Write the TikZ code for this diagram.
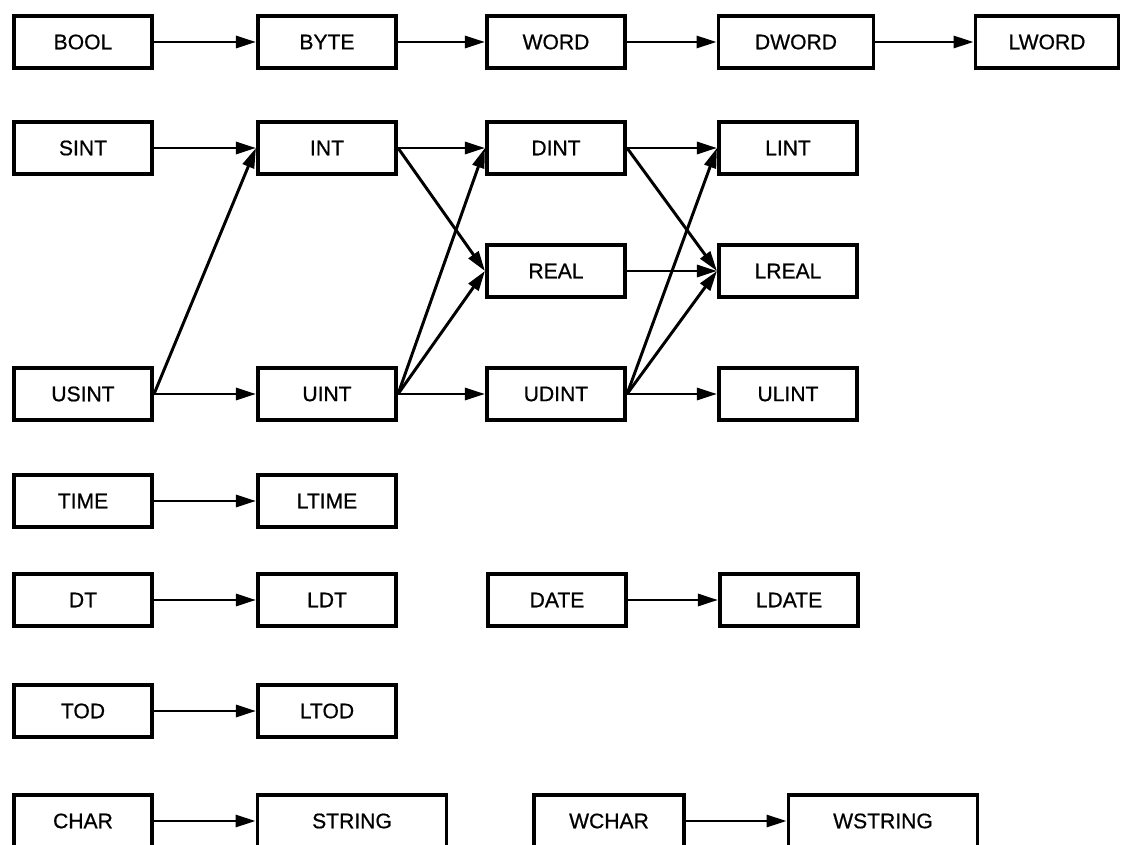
\documentclass[tikz,border=0pt]{standalone}
\usepackage{fontspec}
\setmainfont{Liberation Sans}
\newfontfamily\typefont{Liberation Sans}[FakeBold=0.7]
\usepackage{tikz}
\usetikzlibrary{
  positioning,
  arrows.meta
}
\tikzset{
  % Data type box
  tbox/.style={
    rectangle,
    draw=black,
    line width=2.6pt,
    minimum width=3.46cm,
    minimum height=1.31cm,
    inner sep=0pt,
    font=\typefont\fontsize{15}{18}\selectfont
  },
  % Wider boxes
  dbox/.style={tbox, minimum width=3.88cm},
  lbox/.style={tbox, minimum width=3.58cm},
  sbox/.style={tbox, minimum width=4.73cm},
  % Implicit conversion
  conv/.style={
    draw=black,
    line width=2.1pt,
    -{Triangle[length=0.5cm,width=0.3cm]}
  }
}
\begin{document}
\begin{tikzpicture}[x=0.025cm, y=-0.025cm]
  \useasboundingbox (0,0) rectangle (1123,845);
  % Bit strings
  \node[tbox] (bool)  at (83,42)   {BOOL};
  \node[tbox] (byte)  at (327,42)  {BYTE};
  \node[tbox] (word)  at (556,42)  {WORD};
  \node[dbox] (dword) at (796,42)  {DWORD};
  \node[lbox] (lword) at (1047,42) {LWORD};
  % Integers and reals
  \foreach \n/\t/\x/\y in {sint/SINT/83/148, int/INT/327/148, dint/DINT/556/148,
      lint/LINT/788/148, real/REAL/556/271, lreal/LREAL/788/271,
      usint/USINT/83/394, uint/UINT/327/394, udint/UDINT/556/394,
      ulint/ULINT/788/394} {
    \node[tbox] (\n) at (\x,\y) {\t};
  }
  % Durations, dates and times
  \foreach \n/\t/\x/\y in {time/TIME/83/501, ltime/LTIME/327/501,
      dt/DT/83/600, ldt/LDT/327/600, date/DATE/557/600, ldate/LDATE/789/600,
      tod/TOD/83/711, ltod/LTOD/327/711} {
    \node[tbox] (\n) at (\x,\y) {\t};
  }
  % Characters and strings
  \node[tbox] (char)    at (83,821)  {CHAR};
  \node[sbox] (string)  at (352,821) {STRING};
  \node[tbox, minimum width=3.76cm] (wchar) at (609,821) {WCHAR};
  \node[sbox] (wstring) at (883,821) {WSTRING};
  % Conversions
  \foreach \a/\b in {bool/byte, byte/word, word/dword, dword/lword,
      sint/int, int/dint, int/real, usint/int, usint/uint,
      uint/dint, uint/real, uint/udint,
      dint/lint, dint/lreal, real/lreal,
      udint/lint, udint/lreal, udint/ulint,
      time/ltime, dt/ldt, date/ldate, tod/ltod,
      char/string, wchar/wstring} {
    \draw[conv] (\a.east) -- (\b.west);
  }
\end{tikzpicture}
\end{document}
